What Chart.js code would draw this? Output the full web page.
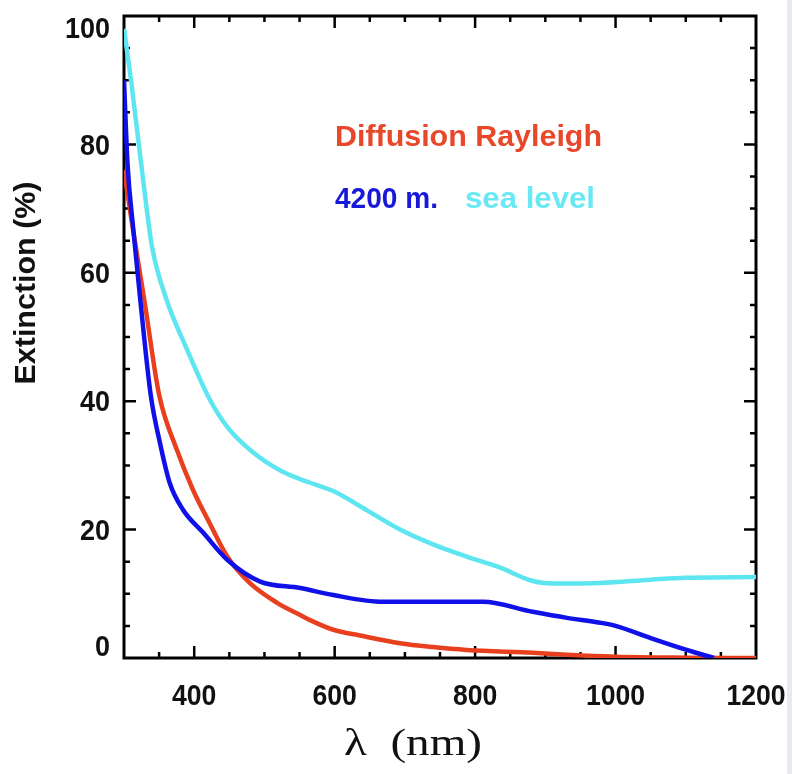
<!DOCTYPE html>
<html>
<head>
<meta charset="utf-8">
<script src="https://cdn.jsdelivr.net/npm/chart.js@4.4.0/dist/chart.umd.min.js"></script>
<style>
  body { margin: 0; background: #fff; }
  #wrap { position: relative; width: 792px; height: 774px; overflow: hidden; }
  #strip { position: absolute; left: 787px; top: 0; width: 5px; height: 774px; background: #e6ebee; }
</style>
</head>
<body>
<div id="wrap">
  <canvas id="extChart" width="792" height="774"></canvas>
  <div id="strip"></div>
</div>
<script>
// values (wavelength in nm, extinction in %)
const seaLevelX = [300, 310, 320, 330, 340, 360, 390, 422, 447, 484, 526, 565, 598, 646, 693, 740, 788, 835, 882, 917, 978, 1050, 1100, 1200];
const seaLevelY = [98, 90, 81, 72, 64, 56, 48, 40.3, 36, 32, 29, 27.3, 26, 23, 20, 17.7, 15.8, 14.1, 12, 11.6, 11.7, 12.2, 12.5, 12.6];

const altX = [300, 305, 313, 323, 338, 351, 365, 384, 413, 447, 494, 551, 598, 669, 750, 811, 882, 931, 978, 1000, 1050, 1100, 1140];
const altY = [90, 77, 67, 56, 41, 33.6, 27.3, 23.1, 19.5, 15.3, 11.9, 10.9, 9.8, 8.75, 8.75, 8.75, 7.2, 6.25, 5.5, 5, 3.1, 1.3, 0];

const rayX = [300, 311, 330, 350, 375, 398, 422, 447, 479, 518, 551, 565, 598, 636, 693, 740, 788, 882, 931, 1000, 1100, 1200];
const rayY = [76, 68, 55, 41, 32.5, 26.25, 21, 15.8, 11.7, 8.6, 6.7, 5.9, 4.4, 3.5, 2.3, 1.7, 1.25, 0.8, 0.5, 0.2, 0.05, 0];

const xLabelValues = [400, 600, 800, 1000, 1200];
const yLabelValues = [0, 20, 40, 60, 80, 100];
const seriesNames = ['sea level', '4200 m.', 'Diffusion Rayleigh'];

const toPoints = (xs, ys) => xs.map((x, i) => ({x: x, y: ys[i]}));

const tickFont = 'bold 30px "Liberation Sans", Arial, sans-serif';

// draw text squeezed/stretched horizontally to a given width
function fitText(c, text, x, y, width, align) {
  const w = c.measureText(text).width;
  c.save();
  c.translate(x, y);
  c.scale(width / w, 1);
  c.textAlign = align;
  c.fillText(text, 0, 0);
  c.restore();
}

const decor = {
  id: 'decor',
  beforeDatasetsDraw(chart) {
    const c = chart.ctx, a = chart.chartArea;
    const xs = chart.scales.x, ys = chart.scales.y;
    c.save();
    c.strokeStyle = '#000';
    c.lineWidth = 3;
    c.strokeRect(a.left, a.top, a.right - a.left, a.bottom - a.top);
    c.lineWidth = 2.5;
    c.beginPath();
    xs.ticks.forEach(t => {
      if (t.value <= xs.min || t.value >= xs.max) return;
      const px = xs.getPixelForValue(t.value);
      const len = t.value % 200 === 0 ? 12 : 6;
      c.moveTo(px, a.bottom); c.lineTo(px, a.bottom - len);
      c.moveTo(px, a.top); c.lineTo(px, a.top + len);
    });
    ys.ticks.forEach(t => {
      if (t.value <= ys.min || t.value >= ys.max) return;
      const py = ys.getPixelForValue(t.value);
      const len = t.value % 20 === 0 ? 12 : 6;
      c.moveTo(a.left, py); c.lineTo(a.left + len, py);
      c.moveTo(a.right, py); c.lineTo(a.right - len, py);
    });
    c.stroke();
    c.restore();
  },
  afterDraw(chart) {
    const c = chart.ctx;
    const xs = chart.scales.x, ys = chart.scales.y;
    c.save();
    c.fillStyle = '#111';
    c.font = tickFont;
    c.textBaseline = 'middle';
    yLabelValues.forEach(v => {
      let py = ys.getPixelForValue(v) + 2;
      py = Math.min(Math.max(py, 30), 648);
      const s = String(v);
      fitText(c, s, 110, py, s.length * 15, 'right');
    });
    xLabelValues.forEach(v => {
      const s = String(v);
      fitText(c, s, xs.getPixelForValue(v), 697, s.length * 14.8, 'center');
    });

    // axis titles
    c.font = '38px "Liberation Serif", "DejaVu Serif", serif';
    fitText(c, 'λ  (nm)', 413, 745, 138, 'center');

    c.save();
    c.translate(27, 283);
    c.rotate(-Math.PI / 2);
    c.font = 'bold 29px "Liberation Sans", Arial, sans-serif';
    fitText(c, 'Extinction (%)', 0, 0, 203, 'center');
    c.restore();

    // in-plot labels
    c.textBaseline = 'alphabetic';
    c.font = 'bold 29px "Liberation Sans", Arial, sans-serif';
    c.fillStyle = '#e8472a';
    fitText(c, seriesNames[2], 335, 146, 267, 'left');
    c.fillStyle = '#1818d8';
    fitText(c, seriesNames[1], 335, 208, 103, 'left');
    c.fillStyle = '#6ae8f5';
    fitText(c, seriesNames[0], 465, 208, 130, 'left');
    c.restore();
  }
};

const ctx = document.getElementById('extChart');
const myChart = new Chart(ctx, {
  type: 'scatter',
  data: {
    datasets: [{
      label: seriesNames[0],
      data: toPoints(seaLevelX, seaLevelY),
      borderColor: '#5ee6f0'
    }, {
      label: seriesNames[1],
      data: toPoints(altX, altY),
      borderColor: '#1010e8'
    }, {
      label: seriesNames[2],
      data: toPoints(rayX, rayY),
      borderColor: '#e8401f'
    }]
  },
  options: {
    responsive: false,
    animation: false,
    showLine: true,
    layout: { padding: { left: 124, top: 16, right: 36, bottom: 116 } },
    elements: {
      point: { radius: 0 },
      line: { borderWidth: 4.5, cubicInterpolationMode: 'monotone', fill: false }
    },
    plugins: {
      legend: { display: false },
      tooltip: { enabled: false }
    },
    scales: {
      x: {
        type: 'linear', min: 300, max: 1200,
        ticks: { stepSize: 50, display: false },
        grid: { display: false, drawTicks: false },
        border: { display: false }
      },
      y: {
        type: 'linear', min: 0, max: 100,
        ticks: { stepSize: 5, display: false },
        grid: { display: false, drawTicks: false },
        border: { display: false }
      }
    }
  },
  plugins: [decor]
});
</script>
</body>
</html>
